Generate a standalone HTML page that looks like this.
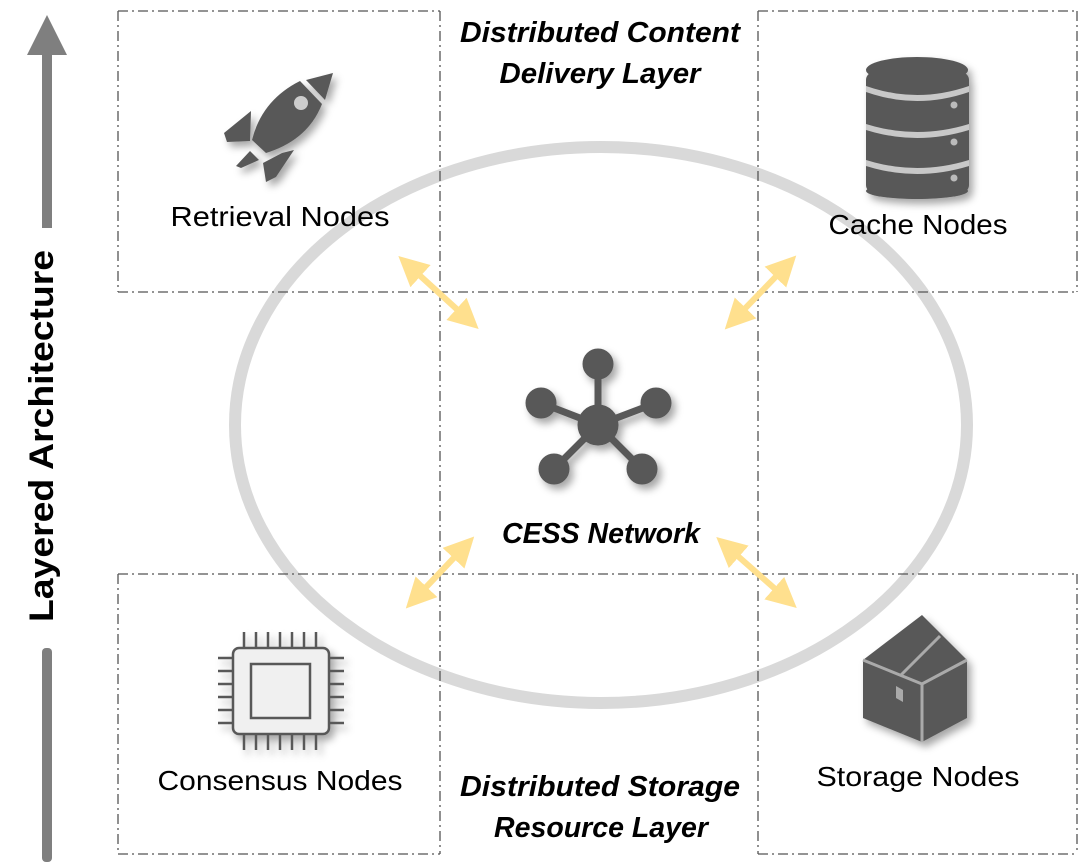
<!DOCTYPE html>
<html><head><meta charset="utf-8"><style>
html,body{margin:0;padding:0;background:#fff;}
svg{display:block;}
text{font-family:"Liberation Sans",sans-serif;}
</style></head><body>
<svg width="1080" height="867" viewBox="0 0 1080 867" xmlns="http://www.w3.org/2000/svg">
<defs>
<filter id="sh" x="-30%" y="-30%" width="170%" height="170%"><feDropShadow dx="4" dy="5" stdDeviation="4" flood-color="#000" flood-opacity="0.35"/></filter>
<marker id="ah" viewBox="0 0 10 10" refX="7" refY="5" markerWidth="5" markerHeight="5" orient="auto-start-reverse"><path d="M0,0 L10,5 L0,10 z" fill="#ffe08e"/></marker>
</defs>
<ellipse cx="601" cy="425" rx="366" ry="278" fill="none" stroke="#d9d9d9" stroke-width="12"/>
<g stroke="#555" stroke-width="1.3" stroke-dasharray="10,4,2,4" fill="none">
<line x1="118" y1="11" x2="440" y2="11"/>
<line x1="758" y1="11" x2="1078" y2="11"/>
<line x1="118" y1="292" x2="1078" y2="292"/>
<line x1="118" y1="574" x2="1078" y2="574"/>
<line x1="118" y1="854" x2="440" y2="854"/>
<line x1="758" y1="854" x2="1078" y2="854"/>
<line x1="118" y1="11" x2="118" y2="292"/>
<line x1="118" y1="574" x2="118" y2="854"/>
<line x1="440" y1="11" x2="440" y2="854"/>
<line x1="758" y1="11" x2="758" y2="854"/>
<line x1="1077" y1="11" x2="1077" y2="292"/>
<line x1="1077" y1="574" x2="1077" y2="854"/>
</g>
<rect x="42" y="50" width="10" height="178" fill="#7f7f7f"/>
<polygon points="47,15 27,55 67,55" fill="#7f7f7f"/>
<rect x="42" y="648" width="10" height="214" rx="4" fill="#7f7f7f"/>
<text transform="translate(53,436) rotate(-90)" text-anchor="middle" font-size="34" font-weight="bold" fill="#000" textLength="372" lengthAdjust="spacingAndGlyphs">Layered Architecture</text>
<g font-size="29" font-weight="bold" font-style="italic" text-anchor="middle" fill="#000" lengthAdjust="spacingAndGlyphs">
<text x="600" y="42" textLength="280" lengthAdjust="spacingAndGlyphs">Distributed Content</text>
<text x="600" y="83" textLength="201" lengthAdjust="spacingAndGlyphs">Delivery Layer</text>
<text x="600" y="796" textLength="280" lengthAdjust="spacingAndGlyphs">Distributed Storage</text>
<text x="601" y="837" textLength="214" lengthAdjust="spacingAndGlyphs">Resource Layer</text>
<text x="601" y="543" textLength="198" lengthAdjust="spacingAndGlyphs">CESS Network</text>
</g>
<g font-size="28" text-anchor="middle" fill="#000">
<text x="280" y="226" textLength="219" lengthAdjust="spacingAndGlyphs">Retrieval Nodes</text>
<text x="918" y="234" textLength="179" lengthAdjust="spacingAndGlyphs">Cache Nodes</text>
<text x="280" y="790" textLength="245" lengthAdjust="spacingAndGlyphs">Consensus Nodes</text>
<text x="918" y="786" textLength="203" lengthAdjust="spacingAndGlyphs">Storage Nodes</text>
</g>
<g stroke="#ffe08e" stroke-width="6" marker-start="url(#ah)" marker-end="url(#ah)">
<line x1="405" y1="262" x2="472" y2="323"/>
<line x1="790" y1="262" x2="731" y2="323"/>
<line x1="468" y1="543" x2="412" y2="602"/>
<line x1="723" y1="543" x2="790" y2="602"/>
</g>
<g filter="url(#sh)" fill="#595959" stroke="#595959">
<g stroke-width="7"><line x1="598" y1="425" x2="598" y2="363"/><line x1="598" y1="425" x2="541" y2="403"/><line x1="598" y1="425" x2="656" y2="403"/><line x1="598" y1="425" x2="554" y2="469"/><line x1="598" y1="425" x2="642" y2="469"/></g>
<circle cx="598" cy="425" r="20"/><circle cx="598" cy="364" r="15"/><circle cx="541" cy="403" r="15"/><circle cx="656" cy="403" r="15"/><circle cx="554" cy="469" r="15"/><circle cx="642" cy="469" r="15"/>
</g>
<g filter="url(#sh)" fill="#595959">
<path d="M333,73 L306,80 L325,100 Z"/>
<path d="M300,81 L322,104 Q308,140 266,153 L252,140 Q262,100 300,81 Z"/>
<circle cx="301" cy="103" r="7" fill="#ccc"/>
<path d="M251,111 L224,133 L227,142 L250,141 Z"/>
<path d="M282,153 L294,150 L276,177 L266,182 L263,163 Z"/>
<path d="M250,151 L259,160 L241,168 L236,166 Z"/>
</g>
<g filter="url(#sh)">
<rect x="866" y="72" width="103" height="121" rx="8" fill="#595959"/>
<ellipse cx="917" cy="70" rx="51" ry="13" fill="#595959"/>
<path d="M866,86 Q917,104 969,86 L969,92 Q917,110 866,92Z" fill="#c8c8c8"/>
<path d="M866,124 Q917,140 969,124 L969,130 Q917,146 866,130Z" fill="#c8c8c8"/>
<path d="M866,160 Q917,176 969,160 L969,166 Q917,182 866,166Z" fill="#c8c8c8"/>
<ellipse cx="917" cy="191" rx="51" ry="8" fill="#595959"/>
<circle cx="954" cy="105" r="3.5" fill="#bbb"/><circle cx="954" cy="142" r="3.5" fill="#bbb"/><circle cx="954" cy="178" r="3.5" fill="#bbb"/>
</g>
<g filter="url(#sh)" stroke="#595959" stroke-width="2.5" fill="none">
<rect x="233" y="648" width="96" height="86" rx="6" fill="#f0f0f0"/>
<rect x="251" y="664" width="59" height="54"/>
<g><line x1="244" y1="632" x2="244" y2="648"/><line x1="256" y1="632" x2="256" y2="648"/><line x1="268" y1="632" x2="268" y2="648"/><line x1="280" y1="632" x2="280" y2="648"/><line x1="292" y1="632" x2="292" y2="648"/><line x1="304" y1="632" x2="304" y2="648"/><line x1="316" y1="632" x2="316" y2="648"/>
<line x1="244" y1="734" x2="244" y2="750"/><line x1="256" y1="734" x2="256" y2="750"/><line x1="268" y1="734" x2="268" y2="750"/><line x1="280" y1="734" x2="280" y2="750"/><line x1="292" y1="734" x2="292" y2="750"/><line x1="304" y1="734" x2="304" y2="750"/><line x1="316" y1="734" x2="316" y2="750"/>
<line x1="218" y1="658" x2="233" y2="658"/><line x1="218" y1="671" x2="233" y2="671"/><line x1="218" y1="684" x2="233" y2="684"/><line x1="218" y1="697" x2="233" y2="697"/><line x1="218" y1="710" x2="233" y2="710"/><line x1="218" y1="723" x2="233" y2="723"/>
<line x1="329" y1="658" x2="344" y2="658"/><line x1="329" y1="671" x2="344" y2="671"/><line x1="329" y1="684" x2="344" y2="684"/><line x1="329" y1="697" x2="344" y2="697"/><line x1="329" y1="710" x2="344" y2="710"/><line x1="329" y1="723" x2="344" y2="723"/></g>
</g>
<g filter="url(#sh)">
<polygon points="922,615 967,660 967,718 922,742 863,718 863,660" fill="#595959"/>
<polyline points="863,660 922,684 967,660" fill="none" stroke="#aaa" stroke-width="3"/>
<line x1="922" y1="684" x2="922" y2="742" stroke="#aaa" stroke-width="3"/>
<line x1="940" y1="636" x2="900" y2="676" stroke="#aaa" stroke-width="3"/>
<polygon points="896,686 903,690 903,702 896,698" fill="#aaa"/>
</g>
</svg>
</body></html>
